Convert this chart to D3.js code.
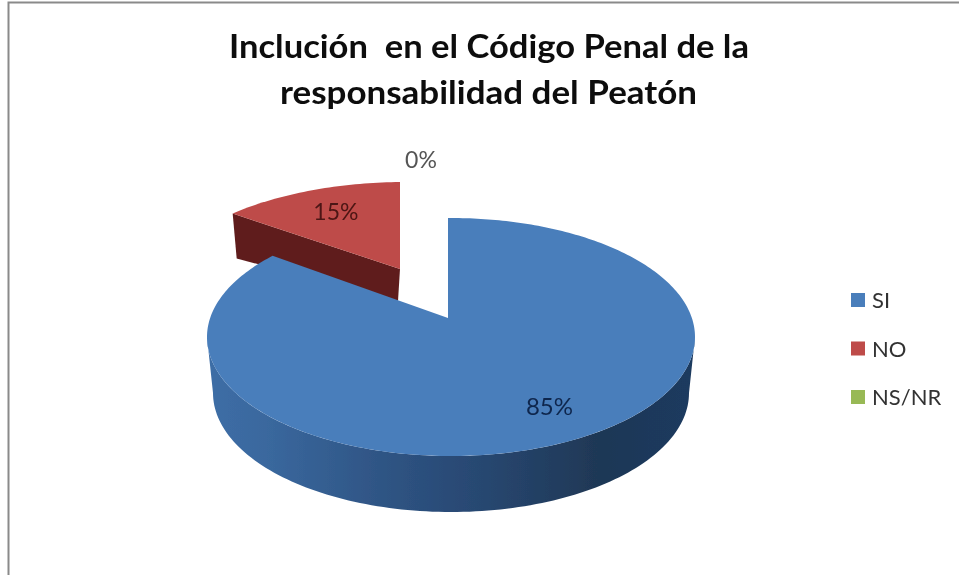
<!DOCTYPE html>
<html>
<head>
<meta charset="utf-8">
<script src="https://cdn.jsdelivr.net/npm/d3@7"></script>
<style>
html,body{margin:0;padding:0;background:#fff;overflow:hidden}
svg{display:block}
text{font-family:Lato,"Open Sans",sans-serif}
</style>
</head>
<body>
<svg id="c" width="959" height="575"></svg>
<script>
const categories = ["SI", "NO", "NS/NR"];
const values = [85, 15, 0];
const percentLabels = ["85%", "15%", "0%"];
const titleLines = ["Inclución  en el Código Penal de la", "responsabilidad del Peatón"];
const topColors = ["#4a7ebb", "#be4b48", "#98b954"];

const svg = d3.select("#c");
const defs = svg.append("defs");

const soft = defs.append("filter").attr("id", "soft").attr("x", "-5%").attr("y", "-5%").attr("width", "110%").attr("height", "110%");
soft.append("feGaussianBlur").attr("stdDeviation", 0.6);
const softText = defs.append("filter").attr("id", "softText").attr("x", "-5%").attr("y", "-20%").attr("width", "110%").attr("height", "140%");
softText.append("feGaussianBlur").attr("stdDeviation", 0.45);

// chart frame
svg.append("path").attr("d", "M8.5,575V2.5H959").attr("fill", "none").attr("stroke", "#8a8a8a").attr("stroke-width", 2).attr("filter", "url(#soft)");

// title
const titleW = [520, 417], titleX = [489, 488.5], titleY = [58, 104];
svg.append("g").attr("filter", "url(#softText)").selectAll("text").data(titleLines).join("text")
  .attr("x", (d, i) => titleX[i]).attr("y", (d, i) => titleY[i])
  .attr("text-anchor", "middle").attr("font-size", 32).attr("font-weight", 700).attr("fill", "#111")
  .attr("textLength", (d, i) => titleW[i]).attr("lengthAdjust", "spacingAndGlyphs")
  .style("white-space", "pre")
  .text(d => d);

const arcs = d3.pie().sort(null).value(d => d)(values);

// projection of a pie angle onto an ellipse, seen from a perspective apex
const makeSlice = (g) => {
  const rim = a => {
    const dx = g.rx * Math.sin(a), dy = -g.ry * Math.cos(a);
    const ox = (g.ax - g.cx) / g.rx, oy = (g.ay - g.cy) / g.ry;
    const ux = dx / g.rx, uy = dy / g.ry;
    const A = ux * ux + uy * uy, B = 2 * (ox * ux + oy * uy), C = ox * ox + oy * oy - 1;
    const t = (-B + Math.sqrt(B * B - 4 * A * C)) / (2 * A);
    return [g.ax + t * dx, g.ay + t * dy];
  };
  const inner = (a, f) => [g.ax + f * g.rx * Math.sin(a), g.ay - f * g.ry * Math.cos(a)];
  return { rim, inner };
};
const line = d3.line();

const blueGeom = { cx: 451, cy: 337, rx: 244, ry: 119, ax: 448, ay: 318 };
const redGeom = { cx: 406, cy: 297, rx: 252, ry: 115, ax: 400, ay: 269 };
const blue = makeSlice(blueGeom), red = makeSlice(redGeom);
const samples = (a0, a1, n = 120) => d3.range(n + 1).map(i => a0 + (a1 - a0) * i / n);

// gradient for the blue side wall
const grad = defs.append("linearGradient").attr("id", "side").attr("x1", 0).attr("x2", 1).attr("y1", 0).attr("y2", 0);
[[0, "#3d6ea6"], [0.12, "#3a689e"], [0.35, "#2f5585"], [0.55, "#284872"], [0.8, "#1f3856"], [1, "#1d3a5f"]]
  .forEach(s => grad.append("stop").attr("offset", s[0]).attr("stop-color", s[1]));

const marks = svg.append("g").attr("filter", "url(#soft)");

// red slice, exploded: wall behind, face on top
const ra = arcs[1];
const rc = red.rim(ra.startAngle);
const rWall = [
  rc, [redGeom.ax, redGeom.ay],
  [redGeom.ax - 2, redGeom.ay + 32], [rc[0] + 4, rc[1] + 45]
];
marks.append("path").datum(ra).attr("d", line(rWall) + "Z").attr("fill", "#5f1f1e");
const redFace = [[redGeom.ax, redGeom.ay], ...samples(ra.startAngle, ra.endAngle, 40).map(red.rim)];
marks.append("path").datum(ra).attr("d", line(redFace) + "Z").attr("fill", topColors[1]);

// blue side wall
const ba = arcs[0];
const bottom = { cx: 451, cy: 393, rx: 238, ry: 119 };
const sideTop = samples(Math.PI / 2, 3 * Math.PI / 2).map(a => [blueGeom.cx + blueGeom.rx * Math.sin(a), blueGeom.cy - blueGeom.ry * Math.cos(a)]);
const sideBot = samples(3 * Math.PI / 2, Math.PI / 2).map(a => [bottom.cx + bottom.rx * Math.sin(a), bottom.cy - bottom.ry * Math.cos(a)]);
marks.append("path").attr("d", line([...sideTop, ...sideBot]) + "Z").attr("fill", "url(#side)");

// blue face
const blueFace = [[blueGeom.ax, blueGeom.ay], ...samples(ba.startAngle, ba.endAngle, 300).map(blue.rim)];
marks.append("path").datum(ba).attr("d", line(blueFace) + "Z").attr("fill", topColors[0]);

// data labels
const mid = d => (d.startAngle + d.endAngle) / 2;
const b = blue.inner(mid(arcs[0]), 0.88), r = red.inner(mid(arcs[1]), 0.56);
const lab = [[b[0] + 4, b[1] - 4], r, [421, 160]];
const labSize = [24, 23, 23];
const labFill = ["#10274d", "#4c1413", "#555"];
svg.append("g").attr("filter", "url(#softText)").selectAll("text").data(percentLabels).join("text")
  .attr("x", (d, i) => lab[i][0]).attr("y", (d, i) => lab[i][1] + 8)
  .attr("text-anchor", "middle").attr("font-size", (d, i) => labSize[i]).attr("fill", (d, i) => labFill[i])
  .text(d => d);

// legend
const legendY = d3.scaleOrdinal().domain(categories).range([300, 348.5, 397]);
const lg = svg.append("g").attr("filter", "url(#softText)").selectAll("g").data(categories).join("g")
  .attr("transform", d => `translate(851,${legendY(d)})`);
lg.append("rect").attr("y", -7).attr("width", 14).attr("height", 14).attr("fill", (d, i) => topColors[i]);
lg.append("text").attr("x", 21).attr("y", 8).attr("font-size", 22).attr("fill", "#333").text(d => d);
</script>
</body>
</html>
